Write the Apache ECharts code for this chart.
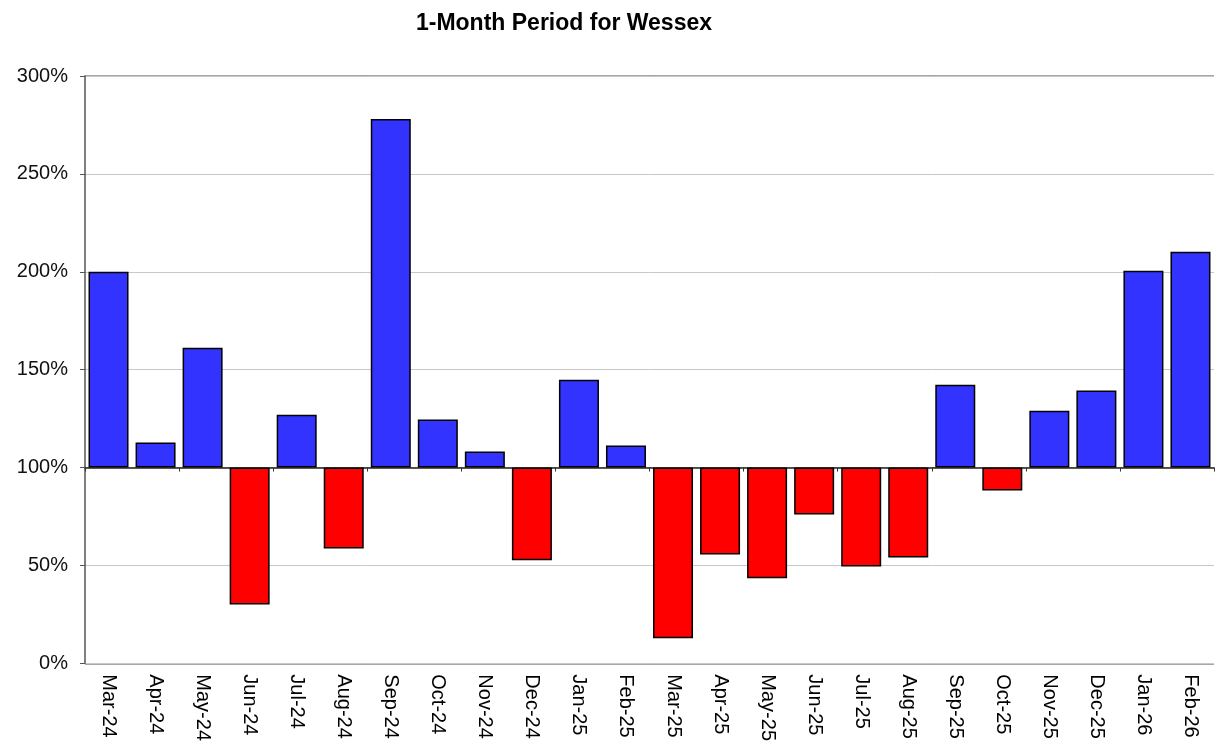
<!DOCTYPE html>
<html>
<head>
<meta charset="utf-8">
<script src="https://cdn.jsdelivr.net/npm/echarts@6/dist/echarts.min.js"></script>
<style>html,body{margin:0;padding:0;background:#fff}#c{width:1216px;height:744px}</style>
</head>
<body>
<div id="c"></div>
<script>
const titleText = '1-Month Period for Wessex';
const categories = ['Mar-24','Apr-24','May-24','Jun-24','Jul-24','Aug-24','Sep-24','Oct-24','Nov-24','Dec-24','Jan-25','Feb-25','Mar-25','Apr-25','May-25','Jun-25','Jul-25','Aug-25','Sep-25','Oct-25','Nov-25','Dec-25','Jan-26','Feb-26'];
const values = [200, 112.8, 161.2, 30.1, 127, 58.7, 278, 124.5, 108.2, 52.6, 144.9, 111.2, 12.8, 55.6, 43.4, 76, 49.5, 54.1, 142.3, 88.3, 129, 139.3, 200.5, 210.2];
const baseline = 100;
const yTicks = [0, 50, 100, 150, 200, 250, 300];

const chart = echarts.init(document.getElementById('c'), null, {renderer: 'canvas'});
const font = 'Arial, "Liberation Sans", sans-serif';
chart.setOption({
  animation: false,
  title: {
    text: titleText, left: 559, top: 7, textAlign: 'center',
    textStyle: {fontFamily: font, fontWeight: 'bold', fontSize: 23, color: '#000'}
  },
  grid: {left: 85, right: 2, top: 76, bottom: 80, containLabel: false},
  xAxis: [
    {
      type: 'category', data: categories, position: 'bottom',
      axisLine: {onZero: true, lineStyle: {color: '#222', width: 1.5}},
      axisTick: {show: true, alignWithLabel: false, length: 4, inside: false, lineStyle: {color: '#333'}},
      axisLabel: {show: false}, splitLine: {show: false}
    },
    {
      type: 'category', data: categories, position: 'bottom',
      axisLine: {show: false, onZero: false},
      axisTick: {show: false},
      axisLabel: {show: true, rotate: -90, margin: 11, fontFamily: font, fontSize: 20, color: '#000', interval: 0}
    }
  ],
  yAxis: {
    type: 'value', min: yTicks[0] - baseline, max: yTicks[yTicks.length - 1] - baseline, interval: 50,
    axisLine: {show: true, onZero: false, lineStyle: {color: '#555', width: 1.5}},
    axisTick: {show: true, length: 5, lineStyle: {color: '#555'}},
    axisLabel: {margin: 17, fontFamily: font, fontSize: 20, color: '#111', formatter: v => (v + baseline) + '%'},
    splitLine: {show: true, lineStyle: {color: '#c8c8c8', width: 1}}
  },
  series: [{
    type: 'bar', xAxisIndex: 0,
    barWidth: 40,
    data: values.map(v => ({
      value: +(v - baseline).toFixed(2),
      itemStyle: {color: v >= baseline ? '#3333FF' : '#FF0000', borderColor: '#000', borderWidth: 1.5}
    }))
  }],
  graphic: [{
    type: 'line', shape: {x1: 85, y1: 76, x2: 1214, y2: 76},
    style: {stroke: '#888', lineWidth: 1.5}
  }, {
    type: 'line', shape: {x1: 85, y1: 664, x2: 1214, y2: 664},
    style: {stroke: '#888', lineWidth: 1.5}
  }]
});
</script>
</body>
</html>
